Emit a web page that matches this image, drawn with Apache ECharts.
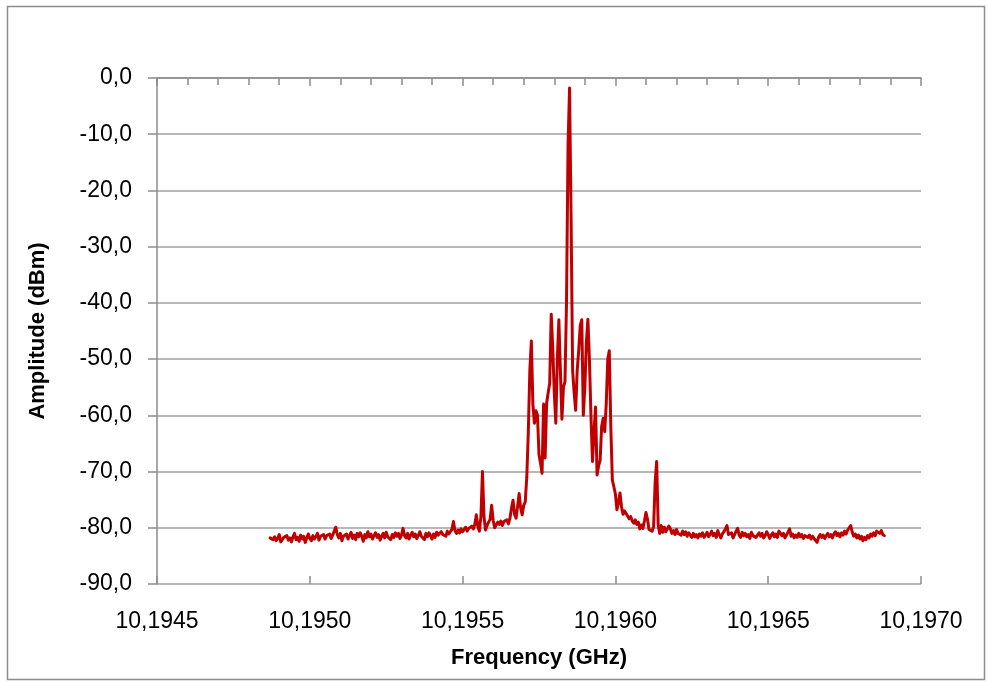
<!DOCTYPE html>
<html>
<head>
<meta charset="utf-8">
<script src="https://cdn.jsdelivr.net/npm/echarts@6/dist/echarts.min.js"></script>
<style>
  html, body { margin: 0; padding: 0; background: #fff; }
  #chart { width: 988px; height: 682px; }
</style>
</head>
<body>
<div id="chart"></div>
<script>
// sweep grid of the analyser (GHz)
var freqStart = 10.19487;
var freqStep = 0.000005;

// amplitude (dBm)
var ampLow = [
    -81.8, -81.5, -82.1, -81.6, -82.3, -81.9, -81.2, -82.5, -82.7, -81.7,
    -82.0, -81.4, -82.2, -81.8, -82.5, -81.6, -81.0, -82.1, -81.7, -82.4,
    -81.3, -82.0, -81.5, -82.6, -81.8, -81.1, -81.9, -82.3, -81.4, -82.0,
    -81.6, -81.0, -82.2, -81.5, -81.8, -81.2, -82.0, -81.4, -81.7, -81.1,
    -81.9, -81.3, -80.6, -79.9, -81.2, -81.8, -81.0, -82.3, -81.5, -81.7,
    -81.1, -82.0, -81.4, -80.8, -81.9, -81.3, -82.1, -81.0, -81.6, -80.9,
    -81.5, -82.4, -81.2, -81.8, -80.7, -81.6, -81.1, -82.0, -81.4, -80.9,
    -81.7, -81.2, -82.2, -81.5, -81.0, -81.8, -80.8, -81.6, -81.3, -82.1,
    -81.2, -81.7, -80.9, -81.5, -81.0, -81.9, -81.3, -80.1, -81.4, -81.8,
    -81.0, -82.0, -81.3, -80.8, -81.6, -81.1, -81.9, -81.4, -80.7, -81.5,
    -81.2, -82.1, -81.0, -81.6, -80.9, -81.4, -82.0, -81.1, -81.7, -80.8,
    -81.3, -81.6, -80.7, -81.2, -80.9, -81.5, -80.6, -81.1, -80.8, -80.3
];
var ampSide = [
    -78.9, -80.5, -81.0, -80.4, -80.9, -80.2, -80.7, -80.4, -79.9, -80.6,
    -80.1, -80.3, -79.7, -80.2, -79.4, -77.7, -79.8, -80.6, -78.0, -70.0,
    -78.0, -80.4, -79.6, -79.0, -78.5, -76.0, -78.7, -80.0, -79.5, -79.0,
    -79.4, -78.8, -79.6, -78.9, -79.2, -78.6, -79.3, -78.3, -76.5, -75.1,
    -77.6, -78.3, -76.2, -73.9, -76.5
];
var ampCore = [
    -77.7, -76.0, -75.4, -71.0, -63.0, -52.0, -46.8, -58.0, -61.4, -59.2,
    -60.0, -67.0, -68.5, -70.3, -58.0, -67.6, -57.8, -56.0, -54.3, -42.0,
    -48.0, -56.0, -61.4, -50.0, -43.0, -52.0, -60.7, -55.0, -54.0, -40.0,
    -12.0, -1.8, -25.0, -52.0, -56.0, -59.1, -52.0, -48.4, -44.0, -43.0,
    -60.0, -55.0, -47.0, -42.9, -50.0, -60.0, -68.2, -63.0, -58.5, -70.6,
    -69.0, -68.0, -62.0, -60.5, -62.9, -58.0, -50.0, -48.5, -62.0, -71.5,
    -72.7, -74.0, -76.8, -75.5, -73.8, -76.3, -77.6, -77.0, -76.8, -77.9,
    -78.4, -78.0, -78.8, -79.2, -78.6, -79.4, -79.0, -80.2, -79.5, -80.1,
    -78.8, -77.3, -78.5, -80.3, -80.0, -80.6, -79.8, -72.0, -68.2, -79.5,
    -81.0, -79.6, -80.8, -79.9, -80.7, -81.0, -79.7, -80.2, -81.0, -80.5,
    -81.2, -80.3, -81.0, -80.8, -81.3, -80.6
];
var ampHigh = [
    -81.2, -80.7, -81.5, -80.9, -81.3, -81.7, -81.0, -81.6, -81.2, -81.8,
    -81.1, -81.5, -80.9, -81.7, -81.3, -80.8, -81.6, -81.2, -80.6, -81.4,
    -81.0, -81.7, -80.5, -81.3, -81.8, -81.1, -80.7, -80.2, -79.6, -81.2,
    -81.5, -80.9, -81.8, -81.2, -80.6, -80.1, -81.3, -81.7, -80.8, -81.4,
    -81.0, -81.6, -81.2, -81.9, -80.8, -81.4, -81.1, -81.7, -81.3, -80.9,
    -81.5, -81.0, -81.8, -81.4, -80.7, -81.2, -81.9, -81.3, -80.9, -81.6,
    -81.1, -81.7, -80.6, -81.0, -81.4, -81.0, -81.8, -81.3, -81.6, -80.2,
    -81.5, -81.1, -81.8, -81.3, -81.7, -81.0, -81.6, -81.2, -81.9, -81.4,
    -81.1, -81.7, -81.3, -82.0, -81.5, -81.9, -82.2, -82.6, -81.6, -81.2,
    -81.7, -81.3, -81.9, -81.4, -81.0, -81.6, -81.2, -81.8, -81.1, -80.7,
    -81.4, -81.0, -81.6, -80.9, -81.3, -80.6, -81.1, -80.4, -80.0, -79.6,
    -80.8, -81.5, -81.1, -81.8, -81.3, -82.0, -81.5, -82.3, -81.7, -82.1,
    -81.4, -81.8, -81.1, -81.5, -80.9, -81.4, -80.6, -80.3, -81.0, -80.5,
    -81.2, -81.4
];

// axis ranges / ticks
var xMin = 10.1945, xMax = 10.1970, xStep = 0.0005;
var yMin = -90, yMax = 0, yStep = 10;

var amp = ampLow.concat(ampSide, ampCore, ampHigh);
var seriesData = amp.map(function (v, i) {
    return [freqStart + i * freqStep, v];
});

var myChart = echarts.init(document.getElementById('chart'));
var font = 'Liberation Sans';
var axisColor = '#8c8c8c';

var option = {
    animation: false,
    backgroundColor: '#fff',
    graphic: [{
        type: 'rect',
        shape: { x: 7.5, y: 6.5, width: 977, height: 673 },
        style: { fill: 'none', stroke: '#8c8c8c', lineWidth: 1.5 },
        z: -1
    }],
    grid: {
        left: 157,
        right: 67,
        top: 78,
        bottom: 98
    },
    xAxis: [{
        type: 'value',
        min: xMin,
        max: xMax,
        interval: xStep,
        name: 'Frequency (GHz)',
        nameLocation: 'middle',
        nameGap: 63,
        nameTextStyle: { color: '#000', fontFamily: font, fontSize: 22, fontWeight: 'bold' },
        axisLine: { lineStyle: { color: axisColor, width: 1.5 } },
        axisTick: { show: true, length: 8, lineStyle: { color: axisColor, width: 1.5 } },
        minorTick: { show: true, splitNumber: 5, length: 7, lineStyle: { color: axisColor, width: 1.5 } },
        splitLine: { show: false },
        axisLabel: {
            color: '#000',
            fontFamily: font,
            fontSize: 23,
            margin: 26,
            formatter: function (v) { return v.toFixed(4).replace('.', ','); }
        }
    }, {
        // inner half of the crossing major ticks
        type: 'value',
        position: 'bottom',
        min: xMin,
        max: xMax,
        interval: xStep,
        axisLine: { show: false },
        axisTick: { show: true, inside: true, length: 8, lineStyle: { color: axisColor, width: 1.5 } },
        axisLabel: { show: false },
        splitLine: { show: false }
    }],
    yAxis: {
        type: 'value',
        min: yMin,
        max: yMax,
        interval: yStep,
        name: 'Amplitude (dBm)',
        nameLocation: 'middle',
        nameGap: 108,
        nameTextStyle: { color: '#000', fontFamily: font, fontSize: 22, fontWeight: 'bold' },
        axisLine: { show: true, lineStyle: { color: axisColor, width: 1.5 } },
        axisTick: { show: true, length: 9, lineStyle: { color: axisColor, width: 1.5 } },
        splitLine: { show: true, lineStyle: { color: '#a0a0a0', width: 1.5 } },
        axisLabel: {
            color: '#000',
            fontFamily: font,
            fontSize: 23,
            margin: 25,
            formatter: function (v) { return v.toFixed(1).replace('.', ','); }
        }
    },
    series: [{
        type: 'line',
        xAxisIndex: 0,
        data: seriesData,
        showSymbol: false,
        symbol: 'none',
        smooth: false,
        lineStyle: { color: '#c00000', width: 3, join: 'round', cap: 'round' }
    }]
};
myChart.setOption(option);
</script>
</body>
</html>
